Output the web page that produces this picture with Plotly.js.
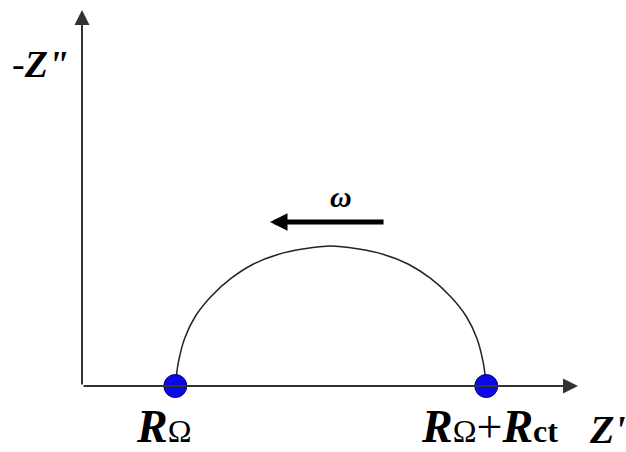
<!DOCTYPE html>
<html>
<head>
<meta charset="utf-8">
<script src="https://cdn.plot.ly/plotly-3.0.1.min.js"></script>
<style>
  html, body { margin: 0; padding: 0; background: #fff; }
  #plot { width: 626px; height: 452px; }
</style>
</head>
<body>
<div id="plot"></div>
<script>
// Nyquist sketch: R_ohm and R_ohm + R_ct on the real axis, semicircle between them
var rOhm = 0.6;
var rCt = 2.0;

// points read along the arc (Z', -Z'')
var arcRe = [0.60, 0.62, 0.66, 0.73, 0.83, 0.96, 1.10, 1.26, 1.43, 1.60, 1.77, 1.94, 2.10, 2.24, 2.37, 2.47, 2.54, 2.58, 2.60];
var arcIm = [0.00, 0.17, 0.34, 0.50, 0.64, 0.77, 0.87, 0.94, 0.98, 1.00, 0.98, 0.94, 0.87, 0.77, 0.64, 0.50, 0.34, 0.17, 0.00];

var dotRe = [rOhm, rOhm + rCt];
var dotIm = [0, 0];

var arc = {
    x: arcRe,
    y: arcIm,
    type: "scatter",
    mode: "lines",
    line: {color: "#222", width: 1.5, shape: "spline"},
    hoverinfo: "skip",
    cliponaxis: false
};

var dots = {
    x: dotRe,
    y: dotIm,
    type: "scatter",
    mode: "markers",
    marker: {size: 23, color: "#0a0ae6", line: {color: "#000070", width: 1}},
    cliponaxis: false
};

var serif = "Liberation Serif, Times New Roman, serif";

function label(txt, x, y, size) {
    return {x: x, y: y, xref: "paper", yref: "paper", xanchor: "center", yanchor: "middle",
            showarrow: false, text: txt, font: {family: serif, size: size, color: "#000"}};
}

var omega = "<span style=\"font-size:32px\">Ω</span>";

var layout = {
    width: 626,
    height: 452,
    margin: {l: 82, r: 48, t: 10, b: 66},
    paper_bgcolor: "#fff",
    plot_bgcolor: "#fff",
    showlegend: false,
    xaxis: {range: [0, 3.19], visible: false, fixedrange: true},
    yaxis: {range: [0, 2.686], visible: false, fixedrange: true},
    annotations: [
        // axes
        {x: 3.19, y: 0, ax: 0, ay: 0, axref: "x", ayref: "y", xref: "x", yref: "y", text: "",
         showarrow: true, arrowhead: 2, arrowwidth: 2, arrowsize: 1.5, arrowcolor: "#333"},
        {x: 0, y: 2.686, ax: 0, ay: 0, axref: "x", ayref: "y", xref: "x", yref: "y", text: "",
         showarrow: true, arrowhead: 2, arrowwidth: 2, arrowsize: 1.5, arrowcolor: "#333"},
        // frequency direction
        {x: 1.209, y: 1.171, ax: 1.949, ay: 1.171, axref: "x", ayref: "y", xref: "x", yref: "y", text: "",
         showarrow: true, arrowhead: 2, arrowwidth: 5, arrowsize: 0.7, arrowcolor: "#000"},
        label("<b><i>ω</i></b>", 0.522, 0.503, 30),
        // labels (paper coords, they sit outside the plot area)
        label("-<b><i>Z\"</i></b>", -0.084, 0.856, 38),
        label("<b><i>R</i></b>" + omega, 0.1653, -0.1064, 46),
        label("<b><i>R</i></b>" + omega + "+<b><i>R</i><span style=\"font-size:32px\">ct</span></b>",
              0.8206, -0.1064, 46),
        label("<b><i>Z'</i></b>", 1.0585, -0.1144, 40)
    ]
};

Plotly.newPlot("plot", [arc, dots], layout, {displayModeBar: false, staticPlot: true});
</script>
</body>
</html>
